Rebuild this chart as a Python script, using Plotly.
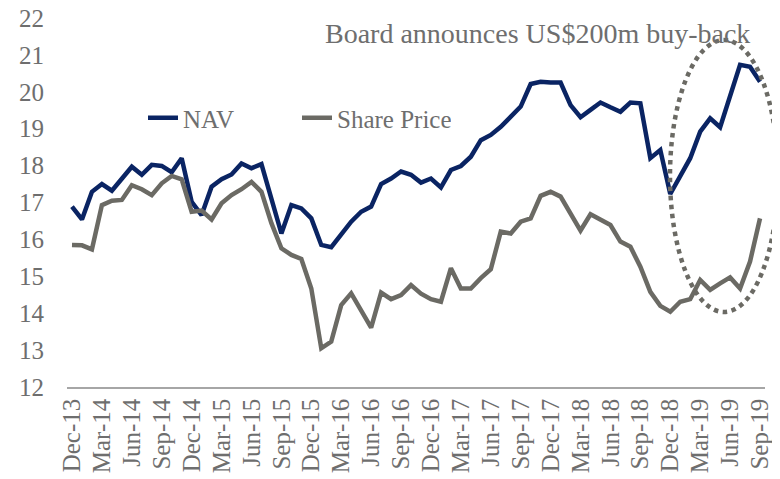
import plotly.graph_objects as go

months = [
    "Dec-13",
    "Jan-14", "Feb-14", "Mar-14", "Apr-14", "May-14", "Jun-14", "Jul-14", "Aug-14", "Sep-14", "Oct-14", "Nov-14", "Dec-14",
    "Jan-15", "Feb-15", "Mar-15", "Apr-15", "May-15", "Jun-15", "Jul-15", "Aug-15", "Sep-15", "Oct-15", "Nov-15", "Dec-15",
    "Jan-16", "Feb-16", "Mar-16", "Apr-16", "May-16", "Jun-16", "Jul-16", "Aug-16", "Sep-16", "Oct-16", "Nov-16", "Dec-16",
    "Jan-17", "Feb-17", "Mar-17", "Apr-17", "May-17", "Jun-17", "Jul-17", "Aug-17", "Sep-17", "Oct-17", "Nov-17", "Dec-17",
    "Jan-18", "Feb-18", "Mar-18", "Apr-18", "May-18", "Jun-18", "Jul-18", "Aug-18", "Sep-18", "Oct-18", "Nov-18", "Dec-18",
    "Jan-19", "Feb-19", "Mar-19", "Apr-19", "May-19", "Jun-19", "Jul-19", "Aug-19", "Sep-19",
]

nav = [
    16.89,
    16.54, 17.29, 17.50, 17.32, 17.63, 17.97, 17.75, 18.02, 17.99, 17.82, 18.20, 17.02,
    16.66, 17.43, 17.63, 17.76, 18.06, 17.93, 18.04, 17.07, 16.16, 16.93, 16.84, 16.57,
    15.85, 15.79, 16.16, 16.48, 16.75, 16.89, 17.50, 17.65, 17.84, 17.75, 17.54, 17.65,
    17.41, 17.88, 17.99, 18.24, 18.69, 18.83, 19.05, 19.33, 19.60, 20.21, 20.27, 20.25,
    20.25, 19.64, 19.31, 19.51, 19.71, 19.58, 19.46, 19.71, 19.69, 18.20, 18.42, 17.23,
    17.70, 18.20, 18.92, 19.28, 19.04, 19.87, 20.73, 20.68, 20.27,
]

share_price = [
    15.85,
    15.84, 15.73, 16.93, 17.05, 17.07, 17.47, 17.36, 17.20, 17.52, 17.72, 17.63, 16.75,
    16.78, 16.54, 16.98, 17.20, 17.36, 17.56, 17.29, 16.44, 15.76, 15.58, 15.47, 14.67,
    13.05, 13.23, 14.22, 14.54, 14.09, 13.61, 14.56, 14.38, 14.49, 14.76, 14.53, 14.38,
    14.31, 15.22, 14.67, 14.67, 14.95, 15.19, 16.21, 16.16, 16.48, 16.57, 17.18, 17.29,
    17.16, 16.71, 16.24, 16.68, 16.54, 16.39, 15.94, 15.80, 15.26, 14.58, 14.20, 14.04,
    14.31, 14.38, 14.90, 14.63, 14.81, 14.97, 14.67, 15.40, 16.57,
]

tick_labels = months[::3]
y_ticks = [12, 13, 14, 15, 16, 17, 18, 19, 20, 21, 22]

annotation_text = "Board announces US$200m buy-back"

NAVY = "#0a2463"
GREY = "#6b6a64"
TEXT = "#6e6e6e"
FONT = "Liberation Serif"

fig = go.Figure()
fig.add_trace(go.Scatter(x=months, y=nav, mode="lines", name="NAV",
                         line=dict(color=NAVY, width=4.5)))
fig.add_trace(go.Scatter(x=months, y=share_price, mode="lines", name="Share Price",
                         line=dict(color=GREY, width=4.5)))

fig.update_layout(
    width=780, height=479,
    margin=dict(l=59, r=23, t=10, b=100, autoexpand=False),
    paper_bgcolor="white", plot_bgcolor="white",
    font=dict(family=FONT, size=25, color=TEXT),
    showlegend=True,
    legend=dict(orientation="h", x=(143 - 67) / 698, y=(387 - 118) / 369,
                xanchor="left", yanchor="middle",
                bgcolor="rgba(0,0,0,0)", borderwidth=0,
                font=dict(family=FONT, size=25, color=TEXT),
                entrywidth=109, entrywidthmode="pixels"),
    xaxis=dict(type="category", categoryorder="array", categoryarray=months,
               tickmode="array", tickvals=tick_labels, ticktext=tick_labels,
               tickangle=-90, showgrid=False, zeroline=False, automargin=False,
               showline=True, linecolor="#a6a6a6", linewidth=1.5,
               ticks="", ticklabeloverflow="allow",
               tickfont=dict(family=FONT, size=25, color=TEXT),
               range=[-0.5, len(months) - 0.5]),
    yaxis=dict(range=[12, 22], tickvals=y_ticks, showgrid=False, zeroline=False,
               showline=False, ticks="", ticklabelstandoff=22, automargin=False,
               ticklabeloverflow="allow",
               tickfont=dict(family=FONT, size=25, color=TEXT)),
    annotations=[dict(text=annotation_text, xref="paper", yref="paper",
                      x=(537 - 67) / 698, y=(387 - 33) / 369,
                      xanchor="center", yanchor="middle",
                      showarrow=False, font=dict(family=FONT, size=28, color=TEXT))],
    shapes=[dict(type="circle", xref="paper", yref="paper",
                 x0=(670 - 67) / 698, x1=(778 - 67) / 698,
                 y0=(387 - 312) / 369, y1=(387 - 40) / 369,
                 line=dict(color="#6b6a64", width=4.5, dash="dot"),
                 layer="above")],
)

fig.write_html("out.html")
